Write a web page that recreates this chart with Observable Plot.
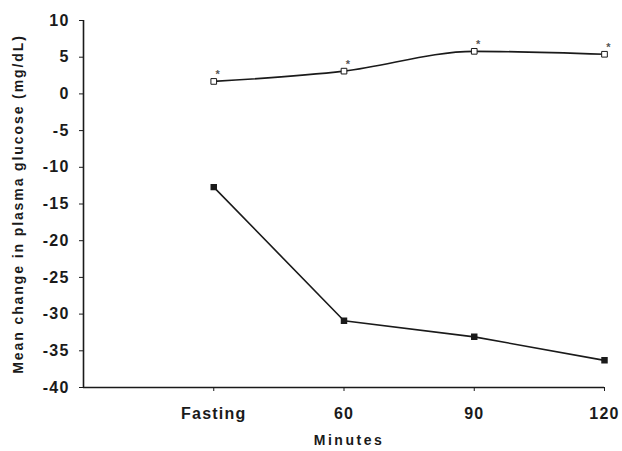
<!DOCTYPE html>
<html>
<head>
<meta charset="utf-8">
<script src="https://cdn.jsdelivr.net/npm/d3@7"></script>
<script src="https://cdn.jsdelivr.net/npm/@observablehq/plot@0.6"></script>
<style>
  html, body { margin: 0; padding: 0; background: #fff; }
</style>
</head>
<body>
<div id="chart"></div>
<script>
const timepoints = ["Fasting", "60", "90", "120"];
const openSeries = [1.7, 3.1, 5.8, 5.4];
const filledSeries = [-12.7, -30.9, -33.1, -36.3];
const significant = ["*", "*", "*", "*"];
const yTicks = [10, 5, 0, -5, -10, -15, -20, -25, -30, -35, -40];
const yLabel = "Mean change in plasma glucose (mg/dL)";
const xLabel = "Minutes";

const openData = timepoints.map((t, i) => ({pos: i + 1, label: t, value: openSeries[i], star: significant[i]}));
const filledData = timepoints.map((t, i) => ({pos: i + 1, label: t, value: filledSeries[i]}));

const ink = "#1a1a1a";

const chart = Plot.plot({
  width: 622,
  height: 451,
  marginLeft: 83,
  marginRight: 18,
  marginTop: 20,
  marginBottom: 64,
  style: {fontFamily: "'Liberation Sans', Arial, sans-serif", fontSize: "16px", color: ink, background: "#fff"},
  x: {domain: [0, 4], ticks: timepoints.map((t, i) => i + 1), tickFormat: d => timepoints[d - 1], tickSize: 4, tickPadding: 16, label: null},
  y: {domain: [-40, 10], ticks: yTicks, tickFormat: d => String(d), tickSize: 4, tickPadding: 10, label: null},
  marks: [
    Plot.ruleX([0], {y1: -40, y2: 10, stroke: ink, strokeWidth: 1.6}),
    Plot.ruleY([-40], {x1: 0, x2: 4, stroke: ink, strokeWidth: 1.6}),
    Plot.line(openData, {x: "pos", y: "value", stroke: ink, strokeWidth: 1.6, curve: "monotone-x"}),
    Plot.line(filledData, {x: "pos", y: "value", stroke: ink, strokeWidth: 1.6}),
    Plot.dot(openData, {x: "pos", y: "value", symbol: "square", r: 3.2, fill: "white", stroke: ink, strokeWidth: 1}),
    Plot.dot(filledData, {x: "pos", y: "value", symbol: "square", r: 2.8, fill: ink, stroke: ink}),
    Plot.text(openData, {x: "pos", y: "value", text: "star", dx: 4, dy: -7, fontSize: 11, fill: "#555"}),
    Plot.text([yLabel], {text: d => d, frameAnchor: "left", textAnchor: "middle", rotate: -90, dx: -65, fontSize: 14, fill: ink}),
    Plot.text([xLabel], {text: d => d, frameAnchor: "bottom", lineAnchor: "top", dy: 48, dx: 5, fontSize: 14, fill: ink})
  ]
});

const sel = d3.select(chart);
sel.selectAll("text").style("font-weight", "bold");
sel.selectAll("g[aria-label='x-axis tick label'] text, g[aria-label='y-axis tick label'] text").style("letter-spacing", "1.2px");
sel.selectAll("text").filter(function() { return this.textContent === xLabel; }).style("letter-spacing", "2.5px");
sel.selectAll("text").filter(function() { return this.textContent === yLabel; }).style("letter-spacing", "1.9px");
document.getElementById("chart").appendChild(chart);
</script>
</body>
</html>
